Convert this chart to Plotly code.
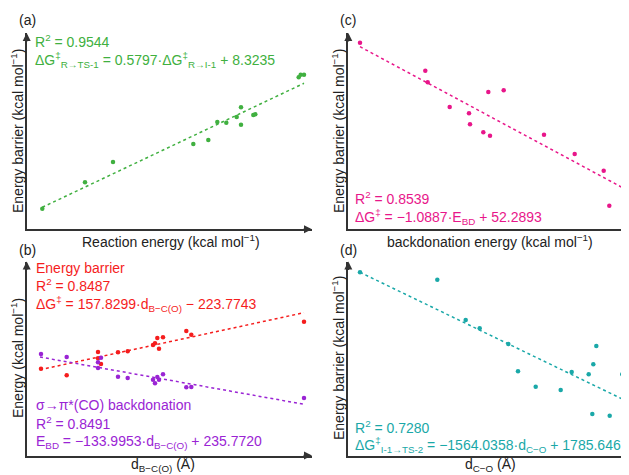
import plotly.graph_objects as go
from plotly.subplots import make_subplots

# page body has an 8px margin; the figure is sized so that it fills the window
OFF = 8
W, H = 629 - OFF, 475 - OFF

# ---- Data (relative units; axes carry no ticks) ----
# (a) Energy barrier vs reaction energy
a_x = [15.6, 58.3, 86.3, 166.6, 181.6, 190.6, 199.6, 210.0, 214.3, 214.3, 226.6, 228.6, 272.0, 274.0, 277.3]
a_y = [20.6, 47.0, 67.3, 85.3, 89.3, 107.3, 106.6, 112.3, 122.0, 104.6, 114.3, 115.0, 152.0, 154.6, 154.6]
a_fit_x = [15.6, 277.3]
a_fit_y = [22.0, 146.0]

# (c) Energy barrier vs backdonation energy
c_x = [11.7, 77.0, 79.4, 101.4, 120.7, 121.7, 140.0, 155.4, 135.0, 141.7, 195.7, 226.4, 255.4, 261.0, 279.0]
c_y = [186.6, 158.6, 147.0, 122.3, 116.0, 105.0, 137.3, 139.0, 97.0, 93.6, 94.6, 75.3, 58.6, 23.6, 45.0]
c_fit_x = [11.7, 280.0]
c_fit_y = [182.6, 38.6]

# (b) Energy vs d_B-C(O)
b_x = [14.3, 40.0, 71.3, 71.3, 74.3, 91.3, 101.0, 126.3, 128.3, 130.6, 132.3, 136.3, 159.6, 164.6, 277.3]
b_barrier = [86.8, 80.2, 103.5, 97.2, 91.5, 103.2, 104.2, 110.5, 112.2, 117.5, 106.8, 118.2, 124.5, 120.8, 133.8]
b_bd = [101.5, 98.5, 93.2, 87.5, 97.8, 78.8, 77.5, 75.8, 72.2, 78.5, 75.8, 81.2, 68.2, 68.5, 57.5]
b_fit_x = [13.3, 277.3]
b_barrier_fit = [85.8, 142.8]
b_bd_fit = [98.5, 51.2]

# (d) Energy barrier vs d_C-O
d_x = [11.7, 89.0, 117.4, 131.4, 160.0, 169.7, 187.4, 212.4, 223.4, 240.4, 245.0, 248.0, 244.0, 261.4, 274.0]
d_y = [183.2, 175.8, 135.5, 127.2, 111.5, 84.2, 68.8, 65.5, 83.5, 81.2, 91.2, 109.5, 41.5, 39.8, 81.2]
d_fit_x = [11.7, 274.0]
d_fit_y = [183.2, 56.5]

GREEN = "#40b040"
PINK = "#e8168a"
RED = "#f51d1d"
PURPLE = "#9a24d4"
TEAL = "#1aa8a8"
AXC = "#333333"
TXT = "#222222"
FONT = "Liberation Sans, Arial, sans-serif"

fig = make_subplots(rows=2, cols=2)

def add_pts(x, y, color, row, col):
    fig.add_trace(go.Scatter(x=x, y=y, mode="markers", cliponaxis=False,
                             marker=dict(color=color, size=4.5, line=dict(width=0)),
                             showlegend=False), row=row, col=col)

def add_fit(x, y, color, row, col):
    fig.add_trace(go.Scatter(x=x, y=y, mode="lines",
                             line=dict(color=color, width=1.5, dash="dot"),
                             showlegend=False), row=row, col=col)

add_fit(a_fit_x, a_fit_y, GREEN, 1, 1)
add_pts(a_x, a_y, GREEN, 1, 1)
add_fit(c_fit_x, c_fit_y, PINK, 1, 2)
add_pts(c_x, c_y, PINK, 1, 2)
add_fit(b_fit_x, b_barrier_fit, RED, 2, 1)
add_fit(b_fit_x, b_bd_fit, PURPLE, 2, 1)
add_pts(b_x, b_barrier, RED, 2, 1)
add_pts(b_x, b_bd, PURPLE, 2, 1)
add_fit(d_fit_x, d_fit_y, TEAL, 2, 2)
add_pts(d_x, d_y, TEAL, 2, 2)

def px_x(p):
    return (p - OFF) / W

def px_y(p):
    return 1 - (p - OFF) / H

left_dom = [px_x(26.7), px_x(312.0)]
right_dom = [px_x(348.3), 1.0]
top_dom = [px_y(229.3), px_y(33.0)]
bot_dom = [px_y(455.5), px_y(261.5)]

ax_common = dict(showgrid=False, zeroline=False, showticklabels=False, ticks="",
                 showline=True, linecolor=AXC, linewidth=1.6, mirror=False)

fig.update_layout(
    xaxis=dict(domain=left_dom, range=[0, 285.3], anchor="y", **ax_common),
    yaxis=dict(domain=top_dom, range=[0, 196.3], anchor="x", **ax_common),
    xaxis2=dict(domain=right_dom, range=[0, 280.7], anchor="y2", **ax_common),
    yaxis2=dict(domain=top_dom, range=[0, 196.3], anchor="x2", **ax_common),
    xaxis3=dict(domain=left_dom, range=[0, 285.3], anchor="y3", **ax_common),
    yaxis3=dict(domain=bot_dom, range=[0, 194.0], anchor="x3", **ax_common),
    xaxis4=dict(domain=right_dom, range=[0, 280.7], anchor="y4", **ax_common),
    yaxis4=dict(domain=bot_dom, range=[0, 194.0], anchor="x4", **ax_common),
)

ann = []
# arrowheads
for xs, ys, right_arrow in [("x", "y", True), ("x2", "y2", False), ("x3", "y3", True), ("x4", "y4", False)]:
    ann.append(dict(xref=xs + " domain", yref=ys + " domain", x=0, y=1, ax=0, ay=10,
                    showarrow=True, arrowhead=2, arrowsize=1, arrowwidth=1.6,
                    arrowcolor=AXC, text=""))
    if right_arrow:
        ann.append(dict(xref=xs + " domain", yref=ys + " domain", x=1, y=0, ax=-10, ay=0,
                        showarrow=True, arrowhead=2, arrowsize=1, arrowwidth=1.6,
                        arrowcolor=AXC, text=""))

def text(x, y, s, color=TXT, size=14, xanchor="left", angle=0, yanchor="middle"):
    ann.append(dict(xref="paper", yref="paper", x=px_x(x), y=px_y(y), text=s,
                    showarrow=False, xanchor=xanchor, yanchor=yanchor,
                    textangle=angle, font=dict(family=FONT, size=size, color=color)))

# panel labels
text(17, 20, "(a)")
text(338, 20, "(c)")
text(17, 250, "(b)")
text(338, 250, "(d)")

# axis titles
text(171, 241, "Reaction energy (kcal mol<sup>−1</sup>)", xanchor="center")
text(490, 241, "backdonation energy (kcal mol<sup>−1</sup>)", xanchor="center")
text(163, 476, "d<sub>B−C(O)</sub> (Å)", xanchor="center", yanchor="bottom")
text(490, 476, "d<sub>C−O</sub> (Å)", xanchor="center", yanchor="bottom")
text(17, 131, "Energy barrier (kcal mol<sup>−1</sup>)", xanchor="center", angle=-90)
text(338, 131, "Energy barrier (kcal mol<sup>−1</sup>)", xanchor="center", angle=-90)
text(17, 358, "Energy (kcal mol<sup>−1</sup>)", xanchor="center", angle=-90)
text(338, 358, "Energy barrier (kcal mol<sup>−1</sup>)", xanchor="center", angle=-90)

# equations
text(33, 41, "R<sup>2</sup> = 0.9544", GREEN)
text(33, 60, "ΔG<sup>‡</sup><sub>R→TS-1</sub> = 0.5797·ΔG<sup>‡</sup><sub>R→I-1</sub> + 8.3235", GREEN)
text(353, 198, "R<sup>2</sup> = 0.8539", PINK)
text(353, 217, "ΔG<sup>‡</sup> = −1.0887·E<sub>BD</sub> + 52.2893", PINK)
text(34, 268, "Energy barrier", RED)
text(34, 285, "R<sup>2</sup> = 0.8487", RED)
text(34, 304, "ΔG<sup>‡</sup> = 157.8299·d<sub>B−C(O)</sub> − 223.7743", RED)
text(34, 405, "σ→π*(CO) backdonation", PURPLE)
text(34, 423, "R<sup>2</sup> = 0.8491", PURPLE)
text(34, 442, "E<sub>BD</sub> = −133.9953·d<sub>B−C(O)</sub> + 235.7720", PURPLE)
text(353, 427, "R<sup>2</sup> = 0.7280", TEAL)
text(353, 445, "ΔG<sup>‡</sup><sub>I-1→TS-2</sub> = −1564.0358·d<sub>C−O</sub> + 1785.6463", TEAL)

fig.update_layout(
    width=W, height=H,
    margin=dict(l=0, r=0, t=0, b=0),
    paper_bgcolor="white", plot_bgcolor="white",
    annotations=ann,
    font=dict(family=FONT, color=TXT),
)

fig.write_html("out.html")
